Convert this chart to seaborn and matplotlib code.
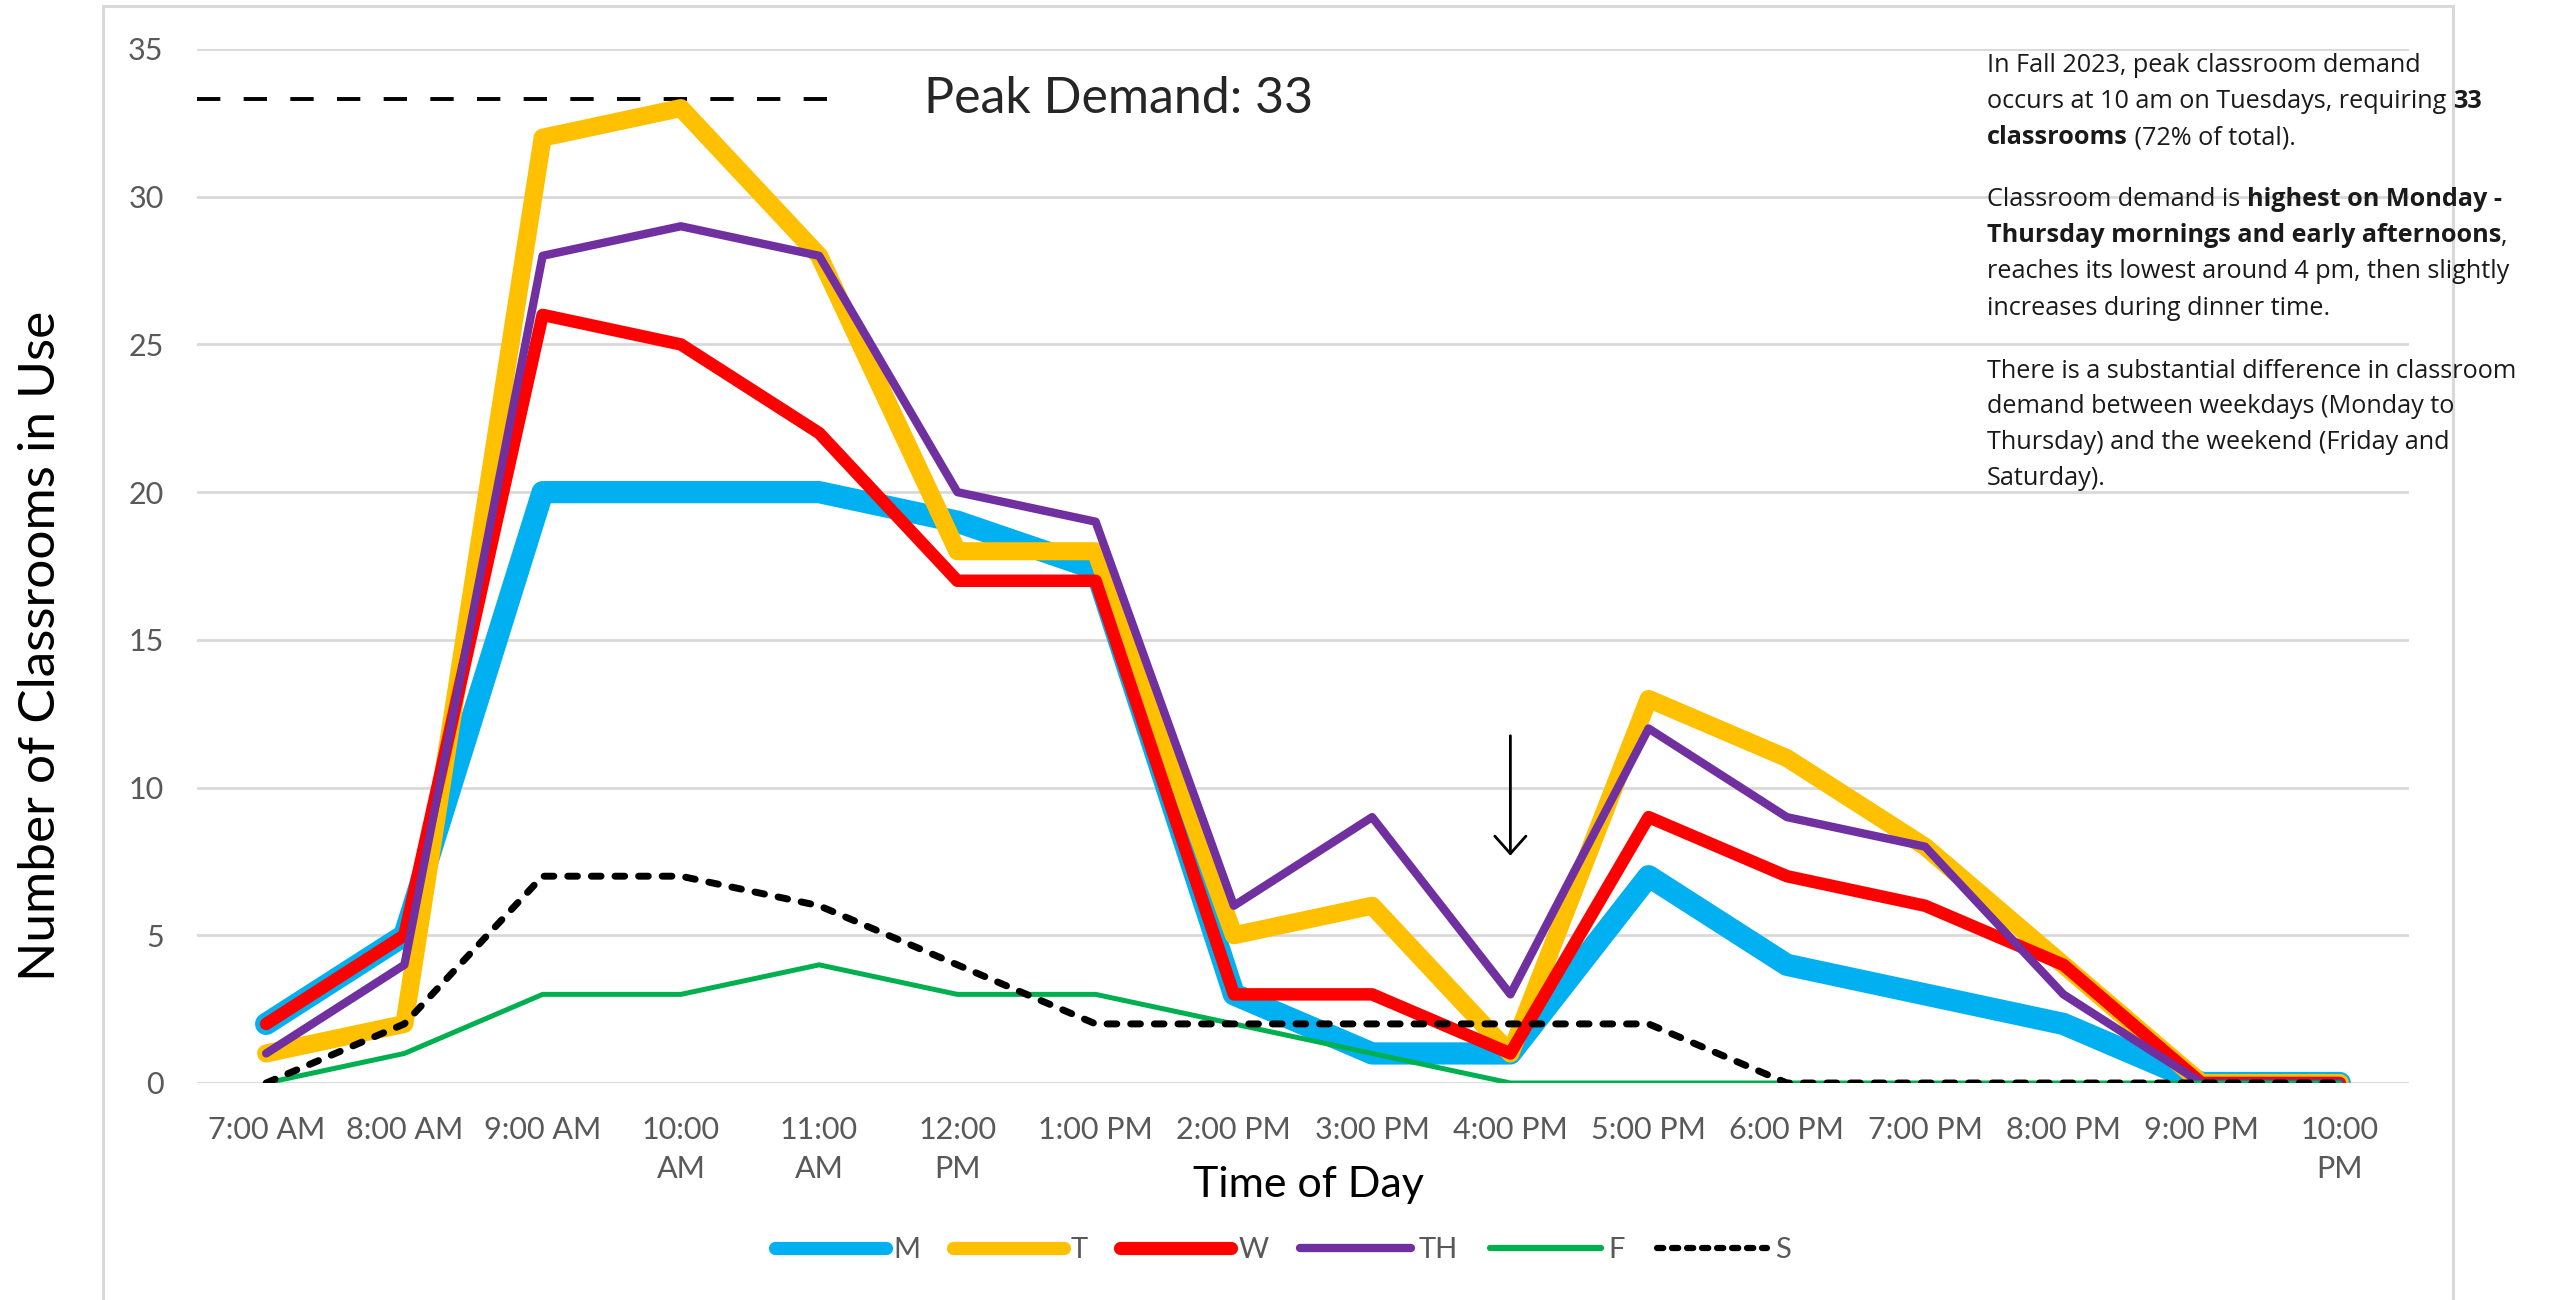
import numpy as np
import pandas as pd
import seaborn as sns
import matplotlib.pyplot as plt
from matplotlib.lines import Line2D
from matplotlib.patches import Rectangle

# ---- data ----
times = ['7:00 AM', '8:00 AM', '9:00 AM', '10:00\nAM', '11:00\nAM', '12:00\nPM',
         '1:00 PM', '2:00 PM', '3:00 PM', '4:00 PM', '5:00 PM', '6:00 PM',
         '7:00 PM', '8:00 PM', '9:00 PM', '10:00\nPM']
days = ['M', 'T', 'W', 'TH', 'F', 'S']
mon = [2, 5, 20, 20, 20, 19, 17.4, 3, 1, 1, 7, 4, 3, 2, 0, 0]
tue = [1, 2, 32, 33, 28, 18, 18, 5, 6, 1, 13, 11, 8, 4, 0, 0]
wed = [2, 5, 26, 25, 22, 17, 17, 3, 3, 1, 9, 7, 6, 4, 0, 0]
thu = [1, 4, 28, 29, 28, 20, 19, 6, 9, 3, 12, 9, 8, 3, 0, 0]
fri = [0, 1, 3, 3, 4, 3, 3, 2, 1, 0, 0, 0, 0, 0, 0, 0]
sat = [0, 2, 7, 7, 6, 4, 2, 2, 2, 2, 2, 0, 0, 0, 0, 0]
peak = 33

df = pd.DataFrame({
    'time': times * len(days),
    'day': np.repeat(days, len(times)),
    'rooms': mon + tue + wed + thu + fri + sat,
})

colors = {'M': '#00B0F0', 'T': '#FFC000', 'W': '#FF0000',
          'TH': '#7030A0', 'F': '#00B050', 'S': '#000000'}
widths = {'M': 16, 'T': 13, 'W': 9, 'TH': 6, 'F': 3.6, 'S': 5}
dash = {'M': '', 'T': '', 'W': '', 'TH': '', 'F': '', 'S': (1.4, 2.0)}

W_PX, H_PX = 2573, 1300
sns.set_style("white")
plt.rcParams['font.family'] = ['Lato', 'DejaVu Sans']
fig = plt.figure(figsize=(W_PX / 100, H_PX / 100), dpi=100)
ax = fig.add_axes([197 / W_PX, 1 - 1083 / H_PX, (2409 - 197) / W_PX, (1083 - 49) / H_PX])

sns.lineplot(data=df, x='time', y='rooms', hue='day', size='day', style='day',
             hue_order=days, size_order=days, style_order=days,
             palette=colors, sizes=widths, dashes=dash, sort=False,
             errorbar=None, legend=False, ax=ax)
for i, ln in enumerate(ax.lines):
    ln.set_solid_capstyle('round')
    ln.set_solid_joinstyle('round')
    ln.set_dash_capstyle('round')
    ln.set_zorder(3 + i)

ax.set_xlim(-0.5, len(times) - 0.5)
ax.set_ylim(0, 35)
ax.set_yticks(range(0, 36, 5))
ax.set_xticks(range(len(times)))
ax.set_xticklabels(times, linespacing=1.45)
ax.tick_params(axis='both', length=0, labelsize=22, labelcolor='#595959')
ax.tick_params(axis='y', pad=24)
ax.tick_params(axis='x', pad=24)
ax.grid(axis='y', color='#d9d9d9', lw=2)
ax.grid(axis='x', visible=False)
for sp in ax.spines.values():
    sp.set_visible(False)

ax.set_xlabel('Time of Day', fontsize=31, color='black')
ax.xaxis.set_label_coords(0.5023, -0.0985)
ax.xaxis.label.set_va('center')
ax.set_ylabel('Number of Classrooms in Use', fontsize=37, color='black')
ax.yaxis.set_label_coords(-0.0705, 0.4226)
ax.yaxis.label.set_va('center')

# peak line + label
ax.plot([-0.5, 4.22], [peak + 0.3, peak + 0.3], color='black', lw=2.8,
        dashes=(6, 6), zorder=2, clip_on=False)
ax.text(4.76, peak + 0.3, f'Peak Demand: {peak}', fontsize=36, va='center', ha='left')

# arrow at 4 PM
ax.annotate('', xy=(9, 7.6), xytext=(9, 11.85),
            arrowprops=dict(arrowstyle='->,head_length=0.45,head_width=0.4',
                            lw=2, color='black', mutation_scale=28))

# outer frame
fig.patches.append(Rectangle((103 / W_PX, -0.1), (2453 - 103) / W_PX, 1.1 - 6 / H_PX,
                             transform=fig.transFigure, fill=False,
                             edgecolor='#d9d9d9', lw=2.2, zorder=0))

# legend
leg_w = {'M': 9.5, 'T': 9.5, 'W': 9.5, 'TH': 6, 'F': 4.5, 'S': 4.5}
handles = [Line2D([], [], color=colors[d], lw=leg_w[d], solid_capstyle='round',
                  dash_capstyle='round')
           for d in days]
for h, d in zip(handles, days):
    if dash[d]:
        h.set_dashes((1.0, 1.4))
fig.legend(handles, days, loc='center', bbox_to_anchor=(1283 / W_PX, 1 - 1250 / H_PX),
           ncol=6, frameon=False, fontsize=21, handlelength=3.8,
           handletextpad=0.25, columnspacing=1.1, labelcolor='#595959')

# side notes with bold runs
notes = [
    (66, [('In Fall 2023, peak classroom demand', False)]),
    (102, [('occurs at 10 am on Tuesdays, requiring ', False), ('33', True)]),
    (138, [('classrooms', True), (' (72% of total).', False)]),
    (200, [('Classroom demand is ', False), ('highest on Monday -', True)]),
    (236, [('Thursday mornings and early afternoons', True), (',', False)]),
    (272, [('reaches its lowest around 4 pm, then slightly', False)]),
    (309, [('increases during dinner time.', False)]),
    (371, [('There is a substantial difference in classroom', False)]),
    (407, [('demand between weekdays (Monday to', False)]),
    (443, [('Thursday) and the weekend (Friday and', False)]),
    (479, [('Saturday).', False)]),
]
note_font = ['Open Sans', 'DejaVu Sans']
note_size = 18.2
renderer = fig.canvas.get_renderer()


def text_w(s, bold):
    kw = dict(fontsize=note_size, family=note_font, fontweight='bold' if bold else 'normal')
    t = fig.text(0, 0, s + 'x', **kw)
    t2 = fig.text(0, 0, 'x', **kw)
    w = t.get_window_extent(renderer).width - t2.get_window_extent(renderer).width
    t.remove()
    t2.remove()
    return w


for y, parts in notes:
    x = 1987
    for s, bold in parts:
        fig.text(x / W_PX, 1 - y / H_PX, s, fontsize=note_size, family=note_font,
                 color='#1a1a1a', fontweight='bold' if bold else 'normal',
                 ha='left', va='center')
        x += text_w(s, bold)

fig.savefig('out.png', dpi=100)
